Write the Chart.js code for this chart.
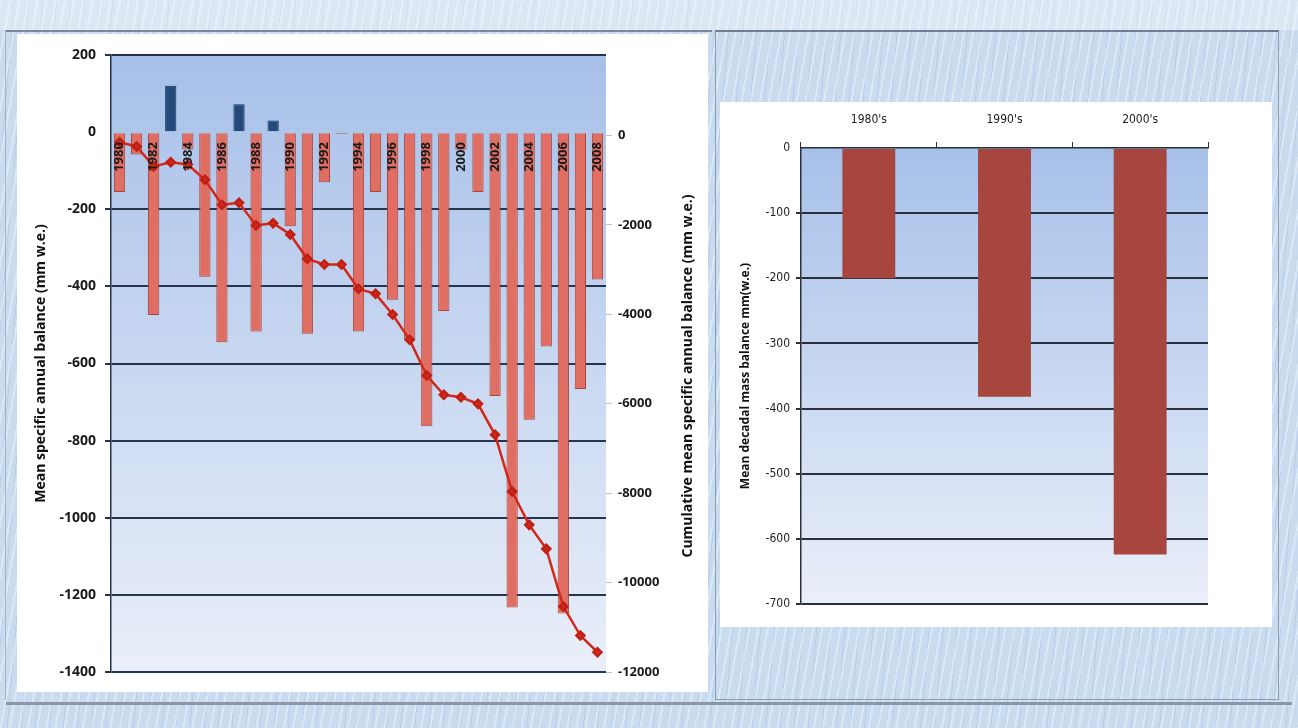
<!DOCTYPE html>
<html>
<head>
<meta charset="utf-8">
<script src="https://cdn.jsdelivr.net/npm/chart.js@4.4.1/dist/chart.umd.min.js"></script>
<style>
body{margin:0;width:1298px;height:728px;overflow:hidden;position:relative;
  background-color:#c8dbef;
  background-image:repeating-linear-gradient(100deg,rgba(255,255,255,.35) 0 2px,rgba(255,255,255,0) 2px 9px),
    repeating-linear-gradient(95deg,rgba(110,150,205,.16) 0 1px,rgba(0,0,0,0) 1px 14px);}
#topBand{position:absolute;left:0;top:0;width:1298px;height:30px;background:rgba(255,255,255,.35);}
#leftFrame{position:absolute;left:5px;top:30px;width:706px;height:668px;border-top:2px solid #7a8ba0;border-left:1px solid #a5b5c6;}
#leftBox{position:absolute;left:17px;top:34px;width:691px;height:658px;background:#fff;}
#rightFrame{position:absolute;left:715px;top:30px;width:562px;height:667px;border:1px solid #8d9cae;border-top:2px solid #6f7f93;}
#rightBox{position:absolute;left:720px;top:102px;width:552px;height:525px;background:#fff;}
#bottomLine{position:absolute;left:6px;top:702px;width:1286px;height:3px;background:#8a97a8;}
</style>
</head>
<body>
<div id="topBand"></div>
<div id="leftFrame"></div>
<div id="rightFrame"></div>
<div id="bottomLine"></div>
<div id="leftBox"><canvas id="annualChart"></canvas></div>
<div id="rightBox"><canvas id="decadeChart"></canvas></div>
<script>
// annual and cumulative balance
var years = ["1980","1981","1982","1983","1984","1985","1986","1987","1988","1989",
  "1990","1991","1992","1993","1994","1995","1996","1997","1998","1999",
  "2000","2001","2002","2003","2004","2005","2006","2007","2008"];
var annualBalance = [-155,-58,-474,120,-45,-375,-545,72,-517,30,
  -244,-523,-130,-5,-517,-155,-435,-540,-763,-464,
  -46,-155,-684,-1233,-746,-556,-1248,-666,-382];
var cumulativeBalance = [-150,-246,-693,-597,-649,-991,-1550,-1506,-2013,-1961,
  -2215,-2759,-2886,-2886,-3430,-3542,-4004,-4571,-5369,-5801,
  -5854,-6003,-6695,-7964,-8709,-9246,-10536,-11185,-11558];
var leftTicks = [200,0,-200,-400,-600,-800,-1000,-1200,-1400];
var rightTicks = [0,-2000,-4000,-6000,-8000,-10000,-12000];

var decades = ["1980's","1990's","2000's"];
var decadalBalance = [-200,-382,-624];
var decadeTicks = [0,-100,-200,-300,-400,-500,-600,-700];

var narrow = "'DejaVu Sans Condensed', 'Liberation Sans Narrow', 'Open Sans', sans-serif";

document.addEventListener("DOMContentLoaded",function(){
  makeAnnualChart();
  makeDecadeChart();
});

// plot area gradient like the excel fill
var plotFill = {
  id:"plotFill",
  beforeDraw:function(chart){
    let a = chart.chartArea, ctx = chart.ctx;
    let g = ctx.createLinearGradient(0,a.top,0,a.bottom);
    g.addColorStop(0,"#a7c0e9");
    g.addColorStop(1,"#eaeff9");
    ctx.save();
    ctx.fillStyle = g;
    ctx.fillRect(a.left,a.top,a.right-a.left,a.bottom-a.top);
    ctx.restore();
  }
};

// right axis title reads bottom to top in the original
var rightTitle = {
  id:"rightTitle",
  afterDraw:function(chart){
    let ctx = chart.ctx;
    ctx.save();
    ctx.translate(671,342);
    ctx.rotate(-Math.PI/2);
    ctx.font = "bold 14px 'Open Sans'";
    ctx.fillStyle = "#111";
    ctx.textAlign = "center";
    ctx.textBaseline = "middle";
    ctx.fillText("Cumulative mean specific annual balance (mm w.e.)",0,0);
    ctx.restore();
  }
};

function plain(v){ return String(v); }

function makeAnnualChart(){
  let target = document.getElementById("annualChart");
  let barColors = annualBalance.map(v => v >= 0 ? "#234a7b" : "#e06e62");
  let barBorders = annualBalance.map(v => v >= 0 ? "#17355c" : "#a9453b");
  new Chart(target,{
    data:{
      labels:years,
      datasets:[{
        type:"line",
        data:cumulativeBalance,
        yAxisID:"y2",
        order:0,
        borderColor:"#d3281a",
        borderWidth:2.5,
        pointStyle:"rectRot",
        pointRadius:4,
        pointBackgroundColor:"#d3281a",
        pointBorderColor:"#c02014",
        tension:0
      },{
        type:"bar",
        data:annualBalance,
        yAxisID:"y",
        order:1,
        backgroundColor:barColors,
        borderColor:barBorders,
        borderWidth:1,
        barPercentage:0.66,
        categoryPercentage:1
      }]
    },
    options:{
      responsive:true,
      maintainAspectRatio:false,
      animation:false,
      layout:{padding:{top:21,bottom:20,left:0,right:0}},
      plugins:{legend:{display:false},tooltip:{enabled:false}},
      scales:{
        x:{
          type:"category",
          position:{y:0},
          offset:true,
          grid:{display:false},
          border:{display:false},
          ticks:{
            z:1,
            autoSkip:false,minRotation:90,maxRotation:90,padding:2,
            color:"#1a1a1a",
            font:{family:"'Open Sans'",size:13,weight:"bold"},
            callback:function(v,i){ return i % 2 === 0 ? years[i] : ""; }
          }
        },
        y:{
          position:"left",
          min:-1400,max:200,
          afterFit:function(s){ s.width = 94; },
          afterBuildTicks:function(s){ s.ticks = leftTicks.map(v => ({value:v})); },
          grid:{
            color:function(c){ return c.tick && c.tick.value === 0 ? "rgba(0,0,0,0)" : "#26344f"; },
            lineWidth:2,tickLength:6
          },
          border:{display:true,color:"#26344f",width:1.5},
          ticks:{color:"#1a1a1a",padding:9,callback:plain,font:{family:"'Open Sans'",size:14,weight:"bold"}},
          title:{display:true,text:"Mean specific annual balance (mm w.e.)",color:"#111",
            font:{family:"'Open Sans'",size:14,weight:"bold"},padding:{top:16,bottom:0}}
        },
        y2:{
          position:"right",
          min:-12000,max:1800,
          afterFit:function(s){ s.width = 102; },
          afterBuildTicks:function(s){ s.ticks = rightTicks.map(v => ({value:v})); },
          grid:{drawOnChartArea:false,color:"#b9c3d0",tickLength:6},
          border:{display:false},
          ticks:{color:"#1a1a1a",padding:6,callback:plain,font:{family:"'Open Sans'",size:13,weight:"bold"}}
        }
      }
    },
    plugins:[plotFill,rightTitle]
  });
}

function makeDecadeChart(){
  let target = document.getElementById("decadeChart");
  new Chart(target,{
    type:"bar",
    data:{
      labels:decades,
      datasets:[{
        data:decadalBalance,
        backgroundColor:"#a6463f",
        borderWidth:0,
        barPercentage:0.39,
        categoryPercentage:1
      }]
    },
    options:{
      responsive:true,
      maintainAspectRatio:false,
      animation:false,
      layout:{padding:{top:0,bottom:23,left:0,right:64}},
      plugins:{legend:{display:false},tooltip:{enabled:false}},
      scales:{
        x:{
          position:"top",
          afterFit:function(s){ s.height = 46; },
          grid:{drawOnChartArea:false,color:"#333",tickLength:6,offset:true},
          border:{display:true,color:"#2a2f38",width:1.5},
          ticks:{color:"#222",padding:15,font:{family:narrow,size:12}}
        },
        y:{
          min:-700,max:0,
          afterFit:function(s){ s.width = 81; },
          afterBuildTicks:function(s){ s.ticks = decadeTicks.map(v => ({value:v})); },
          grid:{
            color:function(c){ return c.tick && c.tick.value === 0 ? "rgba(0,0,0,0)" : "#2b313c"; },
            lineWidth:2,tickLength:5
          },
          border:{display:true,color:"#2a2f38",width:1.5},
          ticks:{color:"#222",padding:6,callback:plain,font:{family:narrow,size:12}},
          title:{display:true,text:"Mean decadal mass balance mm(w.e.)",color:"#111",
            font:{family:"'Open Sans'",size:12,weight:"bold"},padding:{top:18,bottom:0}}
        }
      }
    },
    plugins:[plotFill]
  });
}
</script>
</body>
</html>
